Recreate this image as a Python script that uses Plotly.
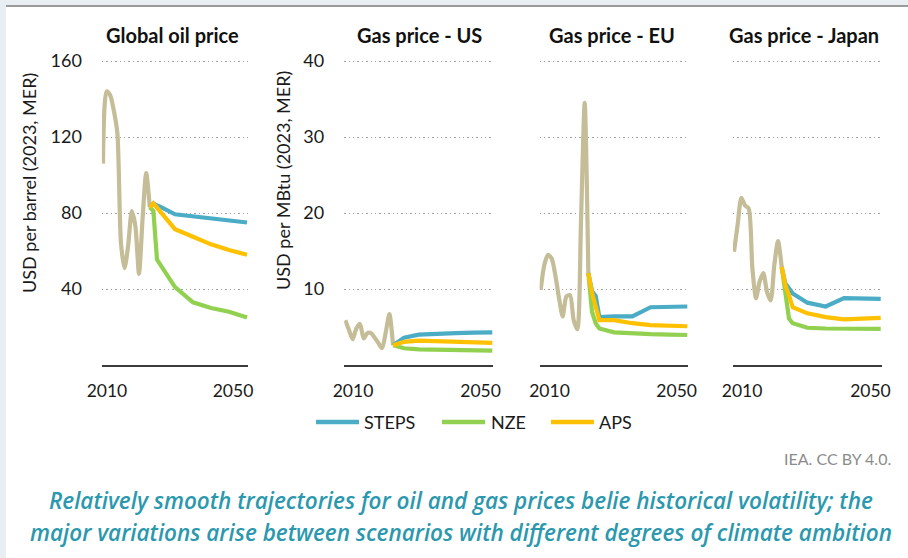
import plotly.graph_objects as go

# ---------------- data ----------------
years_hist = list(range(2010, 2024))
years_proj = [2023, 2024, 2025, 2026, 2030, 2035, 2040, 2045, 2050]

oil_hist = [106, 144, 142, 134, 122, 64, 51, 63, 81, 73, 48, 77, 101, 83]
oil_steps = [83, 85, 84, 83.2, 79.3, 78.3, 77.3, 76.2, 75]
oil_aps = [83, 85, 82.8, 80.5, 71.5, 67.5, 63.5, 60.5, 58]
oil_nze = [83, 81, 55.5, 52.6, 41, 33, 30, 28, 25]

us_hist = [5.9, 4.6, 3.4, 4.8, 5.4, 3.5, 4.2, 4.2, 3.6, 2.9, 2.2, 4.3, 6.7, 2.6]
us_steps = [2.6, 2.9, 3.3, 3.6, 4.0, 4.15, 4.2, 4.25, 4.3]
us_aps = [2.6, 2.75, 2.9, 3.05, 3.2, 3.15, 3.05, 2.95, 2.9]
us_nze = [2.6, 2.45, 2.3, 2.2, 2.05, 2.0, 1.95, 1.9, 1.9]

eu_hist = [9.9, 13.2, 14.5, 14.0, 11.8, 8.8, 6.4, 9.0, 9.2, 5.9, 4.7, 19, 34.5, 12.1]
eu_steps = [12.1, 9.7, 9.1, 6.3, 6.4, 6.4, 7.6, 7.65, 7.7]
eu_aps = [12.1, 9.5, 7.7, 5.9, 5.9, 5.5, 5.25, 5.15, 5.1]
eu_nze = [12.1, 7.0, 5.5, 4.8, 4.3, 4.15, 4.05, 4.0, 3.95]

jp_hist = [14.9, 18.5, 22, 21, 20.6, 12.8, 8.8, 11, 12.1, 9.6, 8.5, 13.2, 16.3, 12.9]
jp_steps = [12.9, 10.7, 10.1, 9.4, 8.2, 7.7, 8.8, 8.75, 8.7]
jp_aps = [12.9, 10.5, 9.2, 7.6, 6.8, 6.3, 6.0, 6.1, 6.2]
jp_nze = [12.9, 9.5, 6.1, 5.5, 4.9, 4.8, 4.75, 4.75, 4.75]

panel_titles = ["Global oil price", "Gas price - US", "Gas price - EU", "Gas price - Japan"]
y_titles = ["USD per barrel (2023, MER)", "USD per MBtu (2023, MER)"]
oil_ticks = [40, 80, 120, 160]
gas_ticks = [10, 20, 30, 40]
x_tick_text = ["2010", "2050"]
scenario_names = ["STEPS", "NZE", "APS"]

# ---------------- style ----------------
W, H = 908, 558
C_HIST = "#C4BD97"
C_STEPS = "#4BACC6"
C_NZE = "#92D050"
C_APS = "#FFC000"
FONT = "Lato"
TXT = "#1a1a1a"

def px(x):
    return x / W

def py(y):
    return (H - y) / H

x_domains_px = [(101.9, 248.1), (344.2, 493.4), (539.6, 688.4), (732.9, 881.8)]
x_tickpos = [[2011.1, 2046.1], [2012.1, 2046.8], [2012.4, 2047.1], [2012.2, 2047.2]]
y_dom = [py(365), py(57.2)]

panels = [
    (oil_hist, oil_steps, oil_aps, oil_nze, [0, 162], oil_ticks, True),
    (us_hist, us_steps, us_aps, us_nze, [0, 40.5], gas_ticks, True),
    (eu_hist, eu_steps, eu_aps, eu_nze, [0, 40.5], gas_ticks, False),
    (jp_hist, jp_steps, jp_aps, jp_nze, [0, 40.5], gas_ticks, False),
]

fig = go.Figure()
layout = {}
for i, (hist, steps, aps, nze, yr, yt, showy) in enumerate(panels):
    n = "" if i == 0 else str(i + 1)
    xa, ya = "x" + n, "y" + n
    fig.add_trace(go.Scatter(x=years_hist, y=hist, mode="lines", xaxis=xa, yaxis=ya,
                             line=dict(color=C_HIST, width=4.2, shape="spline", smoothing=0.7),
                             showlegend=False, hoverinfo="skip"))
    for vals, col in [(steps, C_STEPS), (nze, C_NZE), (aps, C_APS)]:
        fig.add_trace(go.Scatter(x=years_proj, y=vals, mode="lines", xaxis=xa, yaxis=ya,
                                 line=dict(color=col, width=4.2),
                                 showlegend=False, hoverinfo="skip"))
    d0, d1 = x_domains_px[i]
    layout["xaxis" + n] = dict(
        domain=[px(d0), px(d1)], range=[2009.7, 2050.3], anchor=ya, automargin=False,
        showgrid=False, zeroline=False, showline=True, linecolor="#3c3c3c", linewidth=1.5,
        tickmode="array", tickvals=x_tickpos[i], ticktext=x_tick_text, ticks="",
        ticklabelstandoff=9, tickfont=dict(family=FONT, size=17.5, color=TXT),
    )
    layout["yaxis" + n] = dict(
        domain=y_dom, range=yr, anchor=xa, automargin=False,
        tickmode="array", tickvals=yt, showticklabels=showy, ticks="",
        ticklabelstandoff=19,
        showgrid=True, gridcolor="#a3a3a3", gridwidth=1.4, griddash="1.4px,3px",
        zeroline=False, showline=False,
        tickfont=dict(family=FONT, size=18, color=TXT),
    )

annotations = []
centers = [172, 419, 612, 804]
for t, c in zip(panel_titles, centers):
    annotations.append(dict(text="<b>" + t + "</b>", x=px(c), y=py(35), xref="paper", yref="paper",
                            showarrow=False, xanchor="center", yanchor="middle",
                            font=dict(family=FONT, size=20, color="#111111")))
for t, (cx, cy) in zip(y_titles, [(29, 183), (283, 181)]):
    annotations.append(dict(text=t, x=px(cx), y=py(cy), xref="paper", yref="paper",
                            showarrow=False, textangle=-90, xanchor="center", yanchor="middle",
                            font=dict(family=FONT, size=18, color=TXT)))

# frame + manual legend
shapes = [
    dict(type="rect", xref="paper", yref="paper", x0=px(6), x1=1.0, y0=0, y1=py(7),
         fillcolor="white", line=dict(width=0), layer="below"),
    dict(type="line", xref="paper", yref="paper", x0=px(6), x1=1.0, y0=py(6), y1=py(6),
         line=dict(color="#9a9a9a", width=2), layer="below"),
]
leg = [(316, 359, 362, C_STEPS), (442, 485, 489, C_NZE), (551, 594, 597, C_APS)]
for name, (l0, l1, tx, col) in zip(scenario_names, leg):
    shapes.append(dict(type="line", xref="paper", yref="paper", x0=px(l0), x1=px(l1),
                       y0=py(422), y1=py(422), line=dict(color=col, width=4.5)))
    annotations.append(dict(text=name, x=px(tx), y=py(422), xref="paper", yref="paper",
                            showarrow=False, xanchor="left", yanchor="middle",
                            font=dict(family=FONT, size=18, color=TXT)))

annotations.append(dict(text="IEA. CC BY 4.0.", x=px(893), y=py(458), xref="paper", yref="paper",
                        showarrow=False, xanchor="right", yanchor="middle",
                        font=dict(family=FONT, size=16, color="#8c8c8c")))
cap_lines = ["Relatively smooth trajectories for oil and gas prices belie historical volatility; the",
             "major variations arise between scenarios with different degrees of climate ambition"]
for t, yy in zip(cap_lines, [500, 532]):
    annotations.append(dict(text=t, x=px(461), y=py(yy), xref="paper", yref="paper",
                            showarrow=False, xanchor="center", yanchor="middle",
                            font=dict(family="Open Sans", size=22.5, color="#2b98ae",
                                      style="italic", weight=600)))

fig.update_layout(
    width=W, height=H, margin=dict(l=0, r=0, t=0, b=0, pad=0, autoexpand=False),
    paper_bgcolor="#e9eef3", plot_bgcolor="rgba(0,0,0,0)",
    showlegend=False, annotations=annotations, shapes=shapes, **layout,
)
fig.write_html("out.html", config={"displayModeBar": False},
               post_script="document.body.style.margin='0px';document.body.style.padding='0px';")
